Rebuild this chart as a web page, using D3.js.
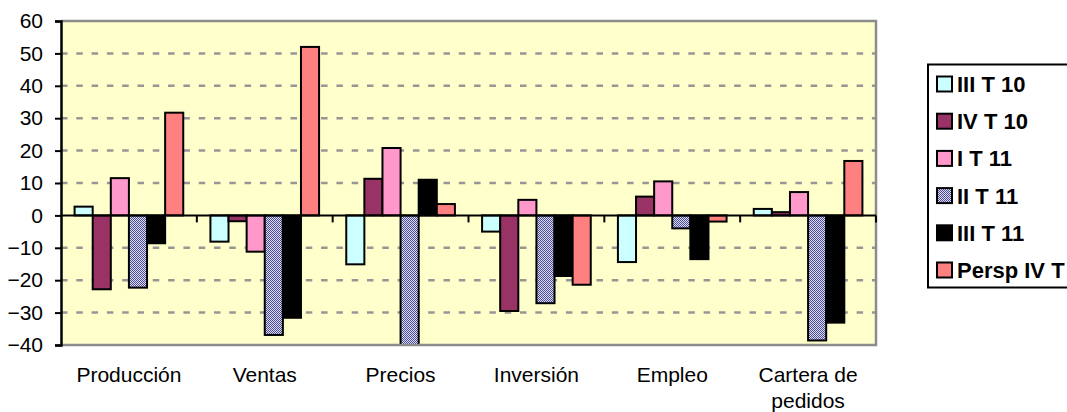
<!DOCTYPE html>
<html>
<head>
<meta charset="utf-8">
<script src="https://cdn.jsdelivr.net/npm/d3@7"></script>
<style>
  html, body { margin: 0; padding: 0; background: #ffffff; }
  svg { display: block; font-family: "Liberation Sans", Arial, sans-serif; }
</style>
</head>
<body>
<svg id="chart" width="1067" height="412"></svg>
<script>
// ---- data ----
const categories = ["Producción", "Ventas", "Precios", "Inversión", "Empleo", "Cartera de pedidos"];
const seriesNames = ["III T 10", "IV T 10", "I T 11", "II T 11", "III T 11", "Persp IV T 11"];
const serIIIT10 = [2.7, -8.1, -15.1, -5.0, -14.4, 2.0];
const serIVT10 = [-22.8, -1.8, 11.3, -29.5, 5.8, 1.0];
const serIT11 = [11.5, -11.2, 20.8, 4.8, 10.5, 7.2];
const serIIT11 = [-22.3, -36.9, -40.0, -27.1, -4.0, -38.6];
const serIIIT11 = [-8.6, -31.6, 11.0, -18.7, -13.5, -33.1];
const serPersp = [31.7, 52.0, 3.5, -21.4, -1.9, 16.8];
const yTicks = [-40, -30, -20, -10, 0, 10, 20, 30, 40, 50, 60];

const seriesValues = [serIIIT10, serIVT10, serIT11, serIIT11, serIIIT11, serPersp];
const seriesFill = ["#CCFFFF", "#993366", "#FF99CC", "url(#hatch)", "#000000", "#FF8080"];

// ---- layout ----
const svg = d3.select("#chart");
const plot = { left: 61, right: 876, top: 21, bottom: 345 };

// hatch pattern for II T 11
const defs = svg.append("defs");
const pat = defs.append("pattern")
  .attr("id", "hatch").attr("patternUnits", "userSpaceOnUse")
  .attr("width", 2).attr("height", 2);
pat.append("rect").attr("width", 2).attr("height", 2).attr("fill", "#DCDCF0");
pat.append("rect").attr("x", 0).attr("y", 0).attr("width", 1).attr("height", 1).attr("fill", "#4C4C98");
pat.append("rect").attr("x", 1).attr("y", 1).attr("width", 1).attr("height", 1).attr("fill", "#4C4C98");
defs.append("clipPath").attr("id", "plotClip").append("rect")
  .attr("x", plot.left).attr("y", plot.top)
  .attr("width", plot.right - plot.left).attr("height", plot.bottom - plot.top);

const y = d3.scaleLinear().domain([-40, 60]).range([plot.bottom, plot.top]);
const x0 = d3.scaleBand().domain(categories).range([plot.left, plot.right]).padding(0);
const bw = x0.bandwidth();
const x1 = d3.scaleBand().domain(seriesNames).range([bw * 0.1, bw * 0.9]).padding(0);

// plot background
svg.append("rect")
  .attr("x", plot.left).attr("y", plot.top)
  .attr("width", plot.right - plot.left).attr("height", plot.bottom - plot.top)
  .attr("fill", "#FFFFCC");

// gridlines
svg.append("g").selectAll("line")
  .data(yTicks.filter(t => t !== 0 && t !== 60 && t !== -40))
  .join("line")
  .attr("x1", plot.left).attr("x2", plot.right)
  .attr("y1", d => y(d)).attr("y2", d => y(d))
  .attr("stroke", "#969696").attr("stroke-width", 2.5)
  .attr("stroke-dasharray", "6.5,8.8");

// bars
const barsG = svg.append("g").attr("clip-path", "url(#plotClip)");
seriesNames.forEach((s, si) => {
  barsG.append("g").selectAll("rect")
    .data(categories.map((c, ci) => ({ c, v: seriesValues[si][ci] })))
    .join("rect")
    .attr("x", d => x0(d.c) + x1(s))
    .attr("width", x1.bandwidth())
    .attr("y", d => y(Math.max(0, d.v)))
    .attr("height", d => Math.abs(y(d.v) - y(0)))
    .attr("fill", seriesFill[si])
    .attr("stroke", "#000").attr("stroke-width", 2);
});

// plot border (top/right/bottom gray)
svg.append("path")
  .attr("d", `M${plot.left},${plot.top} H${plot.right} V${plot.bottom} H${plot.left}`)
  .attr("fill", "none").attr("stroke", "#8C8C8C").attr("stroke-width", 2.5);

// zero line
svg.append("line")
  .attr("x1", plot.left).attr("x2", plot.right)
  .attr("y1", y(0)).attr("y2", y(0))
  .attr("stroke", "#000").attr("stroke-width", 2);

// category ticks
const catTickX = categories.slice(1).map(c => x0(c)).concat([x0.range()[1]]);
svg.append("g").selectAll("line").data(catTickX).join("line")
  .attr("x1", d => d).attr("x2", d => d)
  .attr("y1", y(0)).attr("y2", y(0) + 7)
  .attr("stroke", "#000").attr("stroke-width", 2);

// y axis
const yAxis = svg.append("g")
  .attr("transform", `translate(${plot.left},0)`)
  .call(d3.axisLeft(y).tickValues(yTicks).tickSize(6).tickPadding(12).tickFormat(d3.format("d")));
yAxis.select(".domain").attr("stroke", "#000").attr("stroke-width", 2.5);
yAxis.selectAll(".tick line").attr("stroke", "#000").attr("stroke-width", 2);
yAxis.selectAll(".tick text")
  .attr("font-size", 21).attr("fill", "#000")
  .attr("font-family", "'Liberation Sans', Arial, sans-serif");

// category labels
const catLabels = svg.append("g");
categories.forEach(c => {
  const words = c === "Cartera de pedidos" ? ["Cartera de", "pedidos"] : [c];
  const t = catLabels.append("text")
    .attr("x", x0(c) + bw / 2).attr("y", 382)
    .attr("text-anchor", "middle").attr("font-size", 21).attr("fill", "#000");
  words.forEach((w, i) => {
    t.append("tspan").attr("x", x0(c) + bw / 2).attr("dy", i === 0 ? 0 : 26).text(w);
  });
});

// legend
const leg = svg.append("g");
leg.append("rect")
  .attr("x", 928).attr("y", 64.5).attr("width", 160).attr("height", 223)
  .attr("fill", "#fff").attr("stroke", "#000").attr("stroke-width", 2);
seriesNames.forEach((s, i) => {
  const cy = 84 + i * 37.2;
  leg.append("rect")
    .attr("x", 937).attr("y", cy - 7.5).attr("width", 15).attr("height", 15)
    .attr("fill", seriesFill[i]).attr("stroke", "#000").attr("stroke-width", 2);
  leg.append("text")
    .attr("x", 957).attr("y", cy).attr("dy", "0.36em")
    .attr("font-size", 22).attr("font-weight", "bold").attr("fill", "#000")
    .text(s);
});
</script>
</body>
</html>
